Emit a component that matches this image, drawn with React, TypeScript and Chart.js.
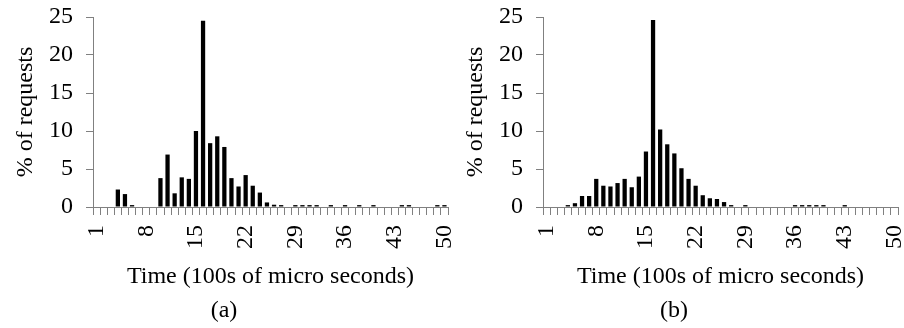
import React, { useEffect, useRef } from "react";
import { Chart, registerables } from "chart.js";

Chart.register(...registerables);

const categories = [
  "1", "2", "3", "4", "5", "6", "7", "8", "9", "10",
  "11", "12", "13", "14", "15", "16", "17", "18", "19", "20",
  "21", "22", "23", "24", "25", "26", "27", "28", "29", "30",
  "31", "32", "33", "34", "35", "36", "37", "38", "39", "40",
  "41", "42", "43", "44", "45", "46", "47", "48", "49", "50",
];

const shownXLabels = ["1", "8", "15", "22", "29", "36", "43", "50"];

const seriesA = [
  0, 0, 0, 2.3, 1.7, 0.25, 0, 0, 0, 3.8,
  6.9, 1.8, 3.9, 3.7, 10.0, 24.5, 8.4, 9.3, 7.9, 3.8,
  2.7, 4.2, 2.8, 1.9, 0.6, 0.3, 0.25, 0, 0.25, 0.25,
  0.25, 0.25, 0, 0.25, 0, 0.25, 0, 0.25, 0, 0.25,
  0, 0, 0, 0.25, 0.25, 0, 0, 0, 0.25, 0.25,
];

const seriesB = [
  0, 0, 0, 0.25, 0.5, 1.45, 1.45, 3.7, 2.8, 2.7,
  3.15, 3.7, 2.6, 4.0, 7.3, 24.6, 10.2, 8.25, 7.05, 5.1,
  3.7, 2.8, 1.55, 1.15, 1.05, 0.65, 0.25, 0, 0.25, 0,
  0, 0, 0, 0, 0, 0.25, 0.25, 0.25, 0.25, 0.25,
  0, 0, 0.25, 0, 0, 0, 0, 0, 0, 0,
];

const yMin = 0;
const yMax = 25;
const yStep = 5;

const FONT = "'Liberation Serif', 'Times New Roman', serif";
const AXIS_GREY = "#808080";

function makeConfig(values: number[], caption: string, rightPad: number): any {
  return {
    type: "bar",
    data: {
      labels: categories,
      datasets: [
        {
          data: values,
          backgroundColor: "#000000",
          borderWidth: 0,
          barPercentage: 0.6,
          categoryPercentage: 1,
        },
      ],
    },
    options: {
      responsive: false,
      animation: false,
      devicePixelRatio: 1,
      layout: { padding: { top: 17, right: rightPad, bottom: 0, left: 0 } },
      plugins: {
        legend: { display: false },
        tooltip: { enabled: false },
        title: {
          display: true,
          text: caption,
          position: "bottom",
          color: "#000",
          font: { family: FONT, size: 24, weight: "normal" },
          padding: { top: 0, bottom: 3 },
        },
      },
      scales: {
        x: {
          type: "category",
          offset: true,
          grid: {
            display: true,
            drawOnChartArea: false,
            drawTicks: true,
            tickLength: 8,
            color: AXIS_GREY,
            offset: true,
          },
          border: { display: true, color: AXIS_GREY, width: 1 },
          ticks: {
            autoSkip: false,
            maxRotation: 90,
            minRotation: 90,
            padding: 10,
            color: "#000",
            font: { family: FONT, size: 24 },
            callback: (_v: any, i: number) =>
              shownXLabels.includes(categories[i]) ? categories[i] : "",
          },
          title: {
            display: true,
            text: "Time (100s of micro seconds)",
            color: "#000",
            font: { family: FONT, size: 24 },
            padding: { top: 0, bottom: 5 },
          },
          afterFit: (s: any) => {
            s.height = 89.2;
            s.paddingLeft = 0;
            s.paddingRight = 0;
          },
        },
        y: {
          min: yMin,
          max: yMax,
          grid: {
            display: true,
            drawOnChartArea: false,
            drawTicks: true,
            tickLength: 7,
            color: AXIS_GREY,
          },
          border: { display: true, color: AXIS_GREY, width: 1 },
          ticks: {
            stepSize: yStep,
            padding: 13,
            color: "#000",
            font: { family: FONT, size: 24 },
          },
          title: {
            display: true,
            text: "% of requests",
            color: "#000",
            font: { family: FONT, size: 24 },
            padding: { top: 11, bottom: 0 },
          },
          afterFit: (s: any) => {
            s.width = 93;
            s.paddingTop = 0;
            s.paddingBottom = 0;
          },
        },
      },
    },
  };
}

function BarPanel(props: { values: number[]; caption: string; left: number; width: number; rightPad: number }) {
  const ref = useRef<HTMLCanvasElement | null>(null);
  useEffect(() => {
    if (!ref.current) return;
    const chart = new Chart(ref.current, makeConfig(props.values, props.caption, props.rightPad));
    return () => chart.destroy();
  }, []);
  return (
    <canvas
      ref={ref}
      width={props.width}
      height={328}
      style={{ position: "absolute", left: props.left, top: 0, width: props.width, height: 328 }}
    />
  );
}

export default function App() {
  return (
    <div style={{ position: "fixed", left: 0, top: 0, width: 904, height: 328, background: "#fff" }}>
      <BarPanel values={seriesA} caption="(a)" left={0} width={452} rightPad={4} />
      <BarPanel values={seriesB} caption="(b)" left={450} width={454} rightPad={6} />
    </div>
  );
}
